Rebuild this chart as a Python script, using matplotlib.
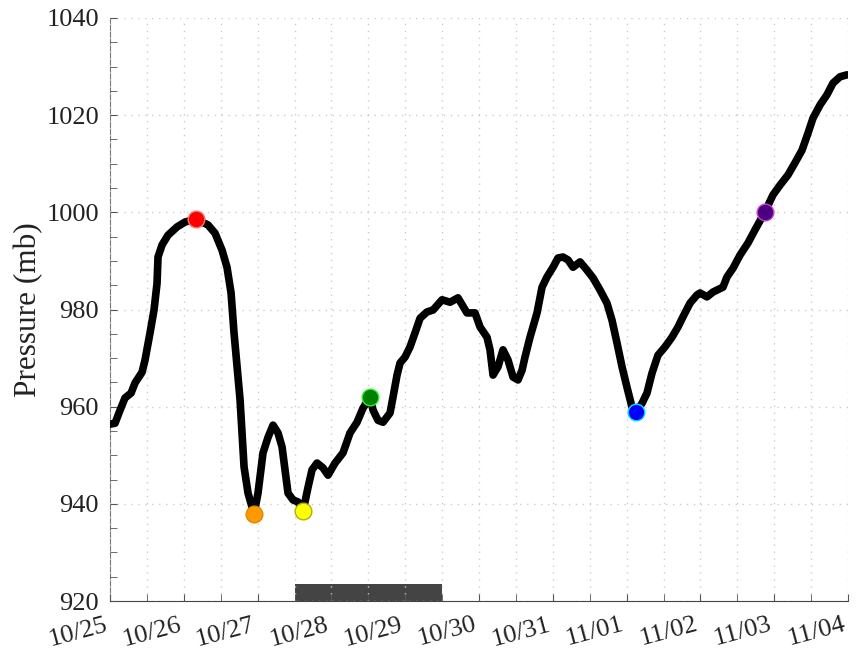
#!/usr/bin/env python3
"""
Pressure trace with marked stages
"""

import matplotlib
matplotlib.use('Agg')
import matplotlib.pyplot as plt
import matplotlib.dates as mdates
from matplotlib.ticker import MultipleLocator
import numpy as np
import datetime as dt

# time in days after 10/25 00:00, pressure in mb
days = [0.000, 0.068, 0.136, 0.203, 0.285, 0.339, 0.434, 0.474, 0.542, 0.596,
        0.637, 0.650, 0.705, 0.786, 0.908, 1.016, 1.165, 1.328, 1.423, 1.518,
        1.585, 1.640, 1.680, 1.721, 1.762, 1.789, 1.816, 1.870, 1.951, 2.005,
        2.073, 2.141, 2.209, 2.276, 2.331, 2.371, 2.412, 2.480, 2.547, 2.615,
        2.683, 2.737, 2.805, 2.886, 2.954, 3.049, 3.157, 3.252, 3.347, 3.428,
        3.523, 3.564, 3.631, 3.699, 3.794, 3.835, 3.889, 3.930, 3.997, 4.065,
        4.133, 4.201, 4.295, 4.377, 4.499, 4.607, 4.715, 4.837, 4.946, 5.014,
        5.108, 5.149, 5.190, 5.257, 5.325, 5.393, 5.461, 5.528, 5.583, 5.623,
        5.691, 5.786, 5.854, 5.921, 6.003, 6.070, 6.138, 6.206, 6.274, 6.369,
        6.463, 6.545, 6.640, 6.734, 6.802, 6.870, 6.938, 7.005, 7.073, 7.127,
        7.209, 7.276, 7.344, 7.425, 7.520, 7.615, 7.696, 7.764, 7.859, 7.954,
        7.995, 8.089, 8.171, 8.306, 8.360, 8.442, 8.537, 8.645, 8.740, 8.875,
        8.984, 9.079, 9.187, 9.282, 9.377, 9.458, 9.526, 9.621, 9.715, 9.797,
        9.892, 9.986]
pressure = [956.4, 956.6, 959.3, 961.8, 962.8, 964.9, 967.1, 969.6, 975.2, 979.9,
            985.4, 990.8, 993.3, 995.3, 997.0, 998.0, 998.6, 997.4, 995.7, 992.2,
            988.7, 983.4, 975.2, 968.2, 961.4, 954.6, 947.6, 942.2, 937.9, 942.2,
            950.5, 953.7, 956.2, 954.6, 951.7, 947.0, 942.2, 940.8, 940.4, 938.5,
            943.4, 947.0, 948.4, 947.4, 945.9, 948.4, 950.5, 954.6, 956.8, 959.7,
            962.0, 959.3, 957.2, 956.8, 958.7, 962.0, 966.5, 969.0, 970.2, 972.3,
            975.2, 978.2, 979.5, 979.9, 982.0, 981.5, 982.4, 979.3, 979.3, 976.4,
            974.3, 971.7, 966.5, 968.2, 971.7, 969.6, 966.1, 965.5, 967.5, 970.2,
            974.3, 979.3, 984.6, 986.7, 988.7, 990.6, 990.8, 990.2, 988.7, 989.8,
            988.1, 986.5, 984.0, 981.3, 977.8, 973.1, 968.2, 964.0, 959.9, 958.9,
            960.7, 962.8, 966.9, 970.6, 972.3, 974.3, 976.4, 978.5, 981.3, 983.0,
            983.4, 982.6, 983.6, 984.6, 986.7, 988.5, 991.2, 993.7, 996.4, 1000.1,
            1003.6, 1005.6, 1007.7, 1010.2, 1012.8, 1016.3, 1019.4, 1022.1, 1024.2, 1026.6,
            1027.9, 1028.3]

# marked stages
mark_days = [1.165, 1.951, 2.615, 3.523, 7.127, 8.875]
mark_pressure = [998.6, 937.9, 938.5, 962.0, 958.9, 1000.1]
mark_face = ['#ff0000', '#ff9900', '#ffff00', '#008000', '#0000ff', '#4b0082']
mark_edge = ['#ff7070', '#e08800', '#b0b000', '#33ee33', '#00e5ff', '#d040d0']

# shaded period along the bottom
span_days = [2.5, 4.5]
span_height = 3.5

t0 = dt.datetime(2012, 10, 25)
times = [t0 + dt.timedelta(days=d) for d in days]
mark_times = [t0 + dt.timedelta(days=d) for d in mark_days]

plt.rcParams['font.family'] = ['Liberation Serif', 'DejaVu Serif']

fig = plt.figure(figsize=(8.57, 6.54), dpi=100)
ax = fig.add_axes([0.1284, 0.081, 0.8611, 0.8915])

ax.plot(times, pressure, color='black', linewidth=5.5, solid_capstyle='round',
        solid_joinstyle='round', zorder=3)
for mt, mp, fc, ec in zip(mark_times, mark_pressure, mark_face, mark_edge):
    ax.plot(mt, mp, 'o', markersize=12, markerfacecolor=fc, markeredgecolor=ec,
            markeredgewidth=1, zorder=4)

s0 = t0 + dt.timedelta(days=span_days[0])
s1 = t0 + dt.timedelta(days=span_days[1])
ax.fill_between([s0, s1], 920, 920 + span_height, color='#444444', linewidth=0, zorder=2)

ax.set_xlim(t0, t0 + dt.timedelta(days=10))
ax.set_ylim(920, 1040)

ax.xaxis.set_major_locator(mdates.DayLocator())
ax.xaxis.set_major_formatter(mdates.DateFormatter('%m/%d'))
ax.xaxis.set_minor_locator(mdates.HourLocator(byhour=[12]))
ax.yaxis.set_major_locator(MultipleLocator(20))
ax.yaxis.set_minor_locator(MultipleLocator(5))

ax.tick_params(axis='both', which='both', direction='in', colors='#555555',
               labelcolor='#222222', labelsize=19, length=5)
ax.tick_params(axis='y', which='major', pad=8)
ax.tick_params(axis='x', which='major', pad=9)
plt.setp(ax.get_xticklabels(), rotation=15, ha='right')

ax.grid(True, axis='x', which='both', linestyle=(0, (1, 4)), color='#cccccc', linewidth=1)
ax.grid(True, axis='y', which='major', linestyle=(0, (1, 4)), color='#cccccc', linewidth=1)
ax.set_axisbelow(False)

ax.spines['top'].set_visible(False)
ax.spines['right'].set_visible(False)
ax.spines['left'].set_color('#777777')
ax.spines['bottom'].set_color('#444444')

ax.set_ylabel('Pressure (mb)', fontsize=22.5, color='#222222', labelpad=2)

plt.savefig('out.png', dpi=100)
